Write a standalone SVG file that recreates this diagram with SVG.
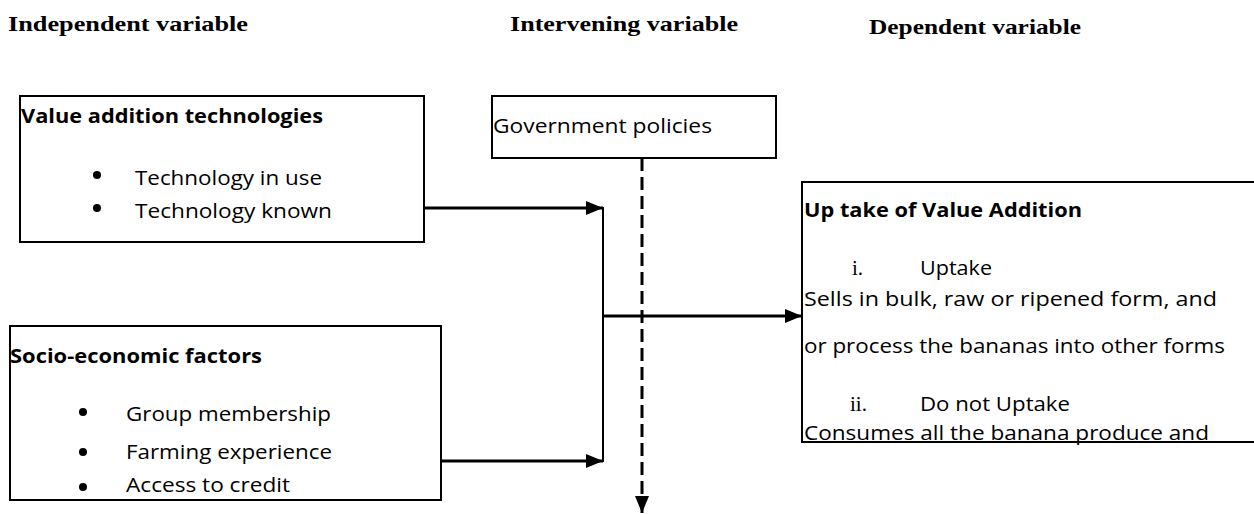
<svg xmlns="http://www.w3.org/2000/svg" width="1254" height="514" viewBox="0 0 1254 514">
<defs>
<style>
.hdr{font-family:"Liberation Serif","Times New Roman",serif;font-weight:bold;font-size:21px;fill:#000}
.t{font-family:"Open Sans","Noto Sans",sans-serif;font-size:20px;fill:#000}
.b{font-family:"Open Sans","Noto Sans",sans-serif;font-size:20px;font-weight:bold;fill:#000}
.rn{font-family:"Liberation Serif","Times New Roman",serif;font-size:21px;fill:#000}
.box{fill:#fff;stroke:#000;stroke-width:2}
.ln{fill:none;stroke:#000;stroke-width:3}
.vl{fill:none;stroke:#000;stroke-width:2}
.dash{fill:none;stroke:#000;stroke-width:3;stroke-dasharray:13 6}
</style>
<marker id="ah" markerUnits="userSpaceOnUse" markerWidth="18" markerHeight="14" refX="17" refY="7" orient="auto">
<path d="M0,0 L17,7 L0,14 Z" fill="#000"/>
</marker>
</defs>
<rect width="1254" height="514" fill="#fff"/>

<g id="headers">
<text class="hdr" x="8" y="31" textLength="240" lengthAdjust="spacingAndGlyphs">Independent variable</text>
<text class="hdr" x="510" y="31" textLength="228" lengthAdjust="spacingAndGlyphs">Intervening variable</text>
<text class="hdr" x="869" y="34" textLength="212" lengthAdjust="spacingAndGlyphs">Dependent variable</text>
</g>

<g id="node-value-addition">
<rect class="box" x="20" y="96" width="404" height="146"/>
<text class="b" x="21" y="123" textLength="302" lengthAdjust="spacingAndGlyphs">Value addition technologies</text>
<circle cx="97" cy="175" r="4"/>
<circle cx="97" cy="208" r="4"/>
<text class="t" x="135" y="185" textLength="187" lengthAdjust="spacingAndGlyphs">Technology in use</text>
<text class="t" x="135" y="218" textLength="197" lengthAdjust="spacingAndGlyphs">Technology known</text>
</g>

<g id="node-government">
<rect class="box" x="492" y="96" width="284" height="62"/>
<text class="t" x="493" y="133" textLength="219" lengthAdjust="spacingAndGlyphs">Government policies</text>
</g>

<g id="node-socio">
<rect class="box" x="10" y="326" width="431" height="174"/>
<text class="b" x="10" y="363" textLength="252" lengthAdjust="spacingAndGlyphs">Socio-economic factors</text>
<circle cx="83" cy="412" r="4"/>
<circle cx="83" cy="452" r="4"/>
<circle cx="83" cy="487" r="4"/>
<text class="t" x="126" y="421" textLength="205" lengthAdjust="spacingAndGlyphs">Group membership</text>
<text class="t" x="126" y="459" textLength="206" lengthAdjust="spacingAndGlyphs">Farming experience</text>
<text class="t" x="126" y="492" textLength="164" lengthAdjust="spacingAndGlyphs">Access to credit</text>
</g>

<g id="node-uptake">
<rect class="box" x="802" y="182" width="470" height="260"/>
<text class="b" x="804" y="217" textLength="278" lengthAdjust="spacingAndGlyphs">Up take of Value Addition</text>
<text class="rn" x="852" y="275">i.</text>
<text class="t" x="920" y="275" textLength="72" lengthAdjust="spacingAndGlyphs">Uptake</text>
<text class="t" x="804" y="306" textLength="413" lengthAdjust="spacingAndGlyphs">Sells in bulk, raw or ripened form, and</text>
<text class="t" x="804" y="353" textLength="421" lengthAdjust="spacingAndGlyphs">or process the bananas into other forms</text>
<text class="rn" x="850" y="411">ii.</text>
<text class="t" x="920" y="411" textLength="150" lengthAdjust="spacingAndGlyphs">Do not Uptake</text>
<text class="t" x="804" y="440" textLength="405" lengthAdjust="spacingAndGlyphs">Consumes all the banana produce and</text>
</g>

<g id="connectors">
<line class="ln" x1="424" y1="208" x2="603" y2="208" marker-end="url(#ah)"/>
<line class="ln" x1="441" y1="461" x2="603" y2="461" marker-end="url(#ah)"/>
<line class="vl" x1="603" y1="207" x2="603" y2="462"/>
<line class="ln" x1="603" y1="316" x2="802" y2="316" marker-end="url(#ah)"/>
<line class="dash" x1="642" y1="158" x2="642" y2="513" marker-end="url(#ah)"/>
</g>
</svg>
